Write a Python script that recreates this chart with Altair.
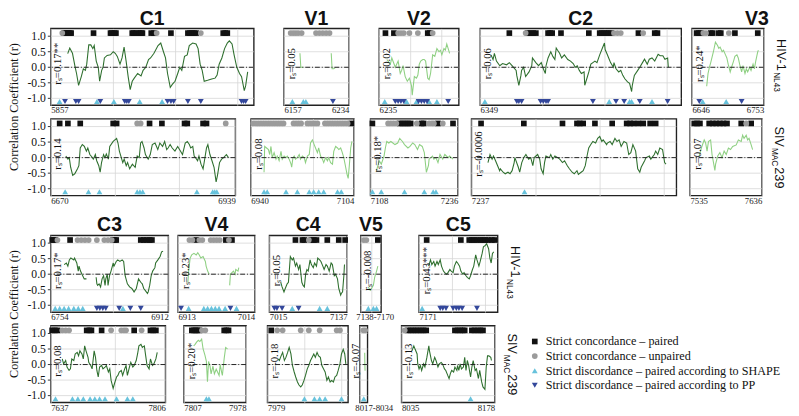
import altair as alt
import numpy as np
import pandas as pd

# ---------------------------------------------------------------- data
# HIV-1 NL4-3 (top row of each block)
C1_HIV_X = [5882,5885,5889,5893,5895,5898,5902,5905,5908,5910,5913,5916,5919,5921,5924,5927,5929,5932,5934,5936,
            5940,5945,5949,5952,5955,5959,5962,5965,5968,5971,5974,5977,5980,5985,5990,5993,5997,6001,6004,6009,
            6015,6019,6023,6026,6029,6033,6036,6040,6044,6047,6050,6054,6058,6061,6066,6071,6074,6077,6080,6083,
            6088,6094,6099,6102,6105,6109,6113,6117,6120,6124,6127,6131,6135,6138,6142,6144,6147]
C1_HIV_Y = [0.44,0.62,0.45,0.0,-0.2,-0.58,-0.3,-0.05,-0.1,0.1,0.72,0.72,0.6,0.7,0.2,0.0,-0.45,-0.1,0.0,0.3,
            0.38,0.4,0.5,0.45,0.35,0.1,0.3,0.65,0.2,-0.3,-0.72,-0.45,-0.35,-0.2,-0.28,-0.1,0.0,0.25,0.3,0.45,
            0.7,0.78,0.5,0.3,-0.2,-0.65,-0.55,-0.45,-0.2,0.0,-0.1,0.35,0.4,0.7,0.78,0.75,0.6,0.1,-0.1,-0.45,
            -0.42,-0.38,-0.35,-0.25,0.1,0.3,0.6,0.78,0.85,0.75,0.4,0.0,-0.2,-0.3,-0.75,-0.6,-0.15]
C1_HIV_SQ = [5877,5879,5881,5883,5885,5887,5920,5945,5947,5951,5953,5977,5979,5983,5987,5990,5992,6005,6009,6034,
             6059,6062,6065,6068,6071,6111,6114,6117]
C1_HIV_CI = [5874,6013,6078]
C1_HIV_UP = [5870,5925,5950,5988,6021]
C1_HIV_DN = [5878,5894,5898,5930,5966,5969,5972,6029,6034,6038,6059,6078,6138,6141,6144]

V1_HIV_X = [[6176,6177,6180],[6213,6214,6216,6218]]
V1_HIV_Y = [[0.45,0.0,0.0],[0.45,-0.05,-0.05,0.0]]
V1_HIV_SQ = []
V1_HIV_CI = [6165,6168,6171,6174,6178,6195,6199,6203,6207,6211]
V1_HIV_UP = [6167,6180,6183]
V1_HIV_DN = [6215]

V2_HIV_X = [6246,6251,6253,6258,6262,6265,6267,6269,6272,6275,6278,6281,6282,6285,6288,6290,6292,6294,6297,6299,
            6301,6304,6306,6308,6309,6311,6314,6317,6320,6322,6324,6327,6329,6331,6333,6335]
V2_HIV_Y = [0.25,0.1,0.3,0.0,0.2,-0.2,-0.1,0.05,-0.3,-0.45,-0.35,-0.6,-0.9,-0.3,-0.35,-0.25,0.1,0.2,0.25,0.25,
            0.2,-0.35,-0.4,-0.2,0.0,0.4,0.35,0.6,0.5,0.55,0.4,0.6,0.55,0.75,0.6,0.45]
V2_HIV_SQ = [6244,6256,6304,6307]
V2_HIV_CI = [6262,6266,6270,6278,6290,6311]
V2_HIV_UP = [6243,6274,6288,6306,6317]
V2_HIV_DN = [6258,6262,6266,6270,6291,6295,6299,6303,6333]

C2_HIV_X = [6365,6368,6370,6373,6378,6382,6388,6392,6396,6402,6403,6406,6409,6410,6413,6416,6421,6425,6426,6431,
            6435,6439,6442,6445,6446,6449,6453,6456,6459,6461,6463,6466,6469,6473,6478,6482,6486,6489,6492,6495,
            6498,6502,6503,6506,6509,6512,6515,6518,6521,6525,6529,6532,6533,6536,6539,6541,6545,6546,6549,6553,
            6556,6559,6562,6566,6569,6572,6573,6576,6581,6584,6588,6591,6595,6598,6602,6606,6611,6614,6618,6621,
            6625,6626]
C2_HIV_Y = [0.4,0.25,0.45,0.2,0.05,0.12,0.08,0.15,0.05,-0.1,-0.27,-0.58,-0.27,-0.1,0.0,-0.3,-0.15,0.05,0.3,0.15,
            0.05,0.15,-0.05,-0.2,0.05,0.3,0.5,0.35,0.25,0.62,0.55,0.45,0.3,0.4,0.25,0.2,0.12,0.0,0.05,-0.1,
            -0.2,-0.15,-0.58,-0.37,-0.15,0.1,0.15,0.2,0.15,0.4,0.62,0.78,0.57,0.42,0.26,0.15,0.0,0.15,-0.05,-0.15,
            -0.1,-0.26,-0.37,-0.47,-0.52,-0.78,-0.58,-0.26,-0.1,0.0,0.15,0.26,0.1,0.26,0.3,0.2,0.42,0.37,0.37,0.26,
            0.3,0.0]
C2_HIV_SQ = [6392,6419,6423,6427,6431,6449,6452,6455,6468,6509,6525,6528,6532,6535,6538,6542,6582,6606,6610]
C2_HIV_CI = [6416,6546,6551,6556,6589]
C2_HIV_UP = [6356,6539,6569,6572,6602]
C2_HIV_DN = [6403,6406,6410,6438,6442,6446,6449,6515,6549,6561,6584,6625]

V3_HIV_X = [6668,6670,6672,6674,6678,6681,6684,6686,6688,6691,6693,6696,6698,6700,6703,6705,6708,6710,6713,6715,
            6717,6720,6722,6725,6727,6729,6732,6734,6737,6739,6741,6744,6745]
V3_HIV_Y = [-0.61,-0.2,0.0,0.15,0.5,0.81,0.71,0.61,0.65,0.5,0.55,0.4,0.3,0.1,-0.15,0.0,0.2,0.35,0.4,0.3,
            0.1,-0.15,0.05,-0.2,-0.05,-0.15,0.0,-0.1,0.1,-0.05,0.2,0.5,0.55]
V3_HIV_SQ = [6653,6656,6659,6674,6677,6686,6689,6710,6744]
V3_HIV_CI = [6663,6667,6701]
V3_HIV_UP = [6662,6697]
V3_HIV_DN = [6657,6720]

# SIV mac239 (bottom row of each block)
C1_SIV_X = [6692,6695,6697,6699,6702,6705,6709,6711,6713,6716,6719,6722,6724,6727,6730,6732,6735,6737,6740,6742,
            6744,6747,6749,6751,6754,6756,6761,6766,6768,6770,6775,6777,6780,6782,6785,6789,6793,6796,6799,6801,
            6803,6806,6808,6812,6815,6818,6822,6826,6829,6833,6836,6839,6841,6844,6847,6851,6855,6859,6862,6866,
            6869,6872,6874,6877,6879,6881,6884,6886,6889,6892,6894,6897,6899,6902,6905,6908,6911,6913,6916,6919,
            6922,6926,6929]
C1_SIV_Y = [0.05,-0.05,0.0,-0.31,-0.57,-0.52,-0.36,-0.26,0.31,0.42,0.36,0.21,0.31,0.1,0.02,-0.05,0.1,-0.1,-0.26,-0.47,
            -0.16,0.1,0.0,0.12,-0.05,0.36,0.52,0.62,0.47,0.21,-0.16,-0.05,-0.26,-0.16,-0.36,-0.21,-0.31,0.05,0.0,0.47,
            0.52,0.31,0.1,-0.05,0.1,0.42,0.47,0.26,0.47,0.36,0.52,0.26,0.31,0.42,0.31,0.21,0.36,0.21,0.1,0.47,
            0.52,0.42,0.31,0.36,0.05,0.0,-0.1,0.05,-0.21,-0.36,-0.1,0.31,0.42,0.1,-0.1,-0.31,-0.78,-0.57,-0.16,-0.05,
            0.0,0.1,0.0]
C1_SIV_SQ = [6683,6695,6713,6761,6766,6814,6832,6865,6869,6892,6897]
C1_SIV_CI = [6796,6801,6925]
C1_SIV_UP = [6691,6725,6741,6796,6800,6804,6883,6906,6909,6912]
C1_SIV_DN = []

V1_SIV_X = [6961,6962,6965,6968,6970,6972,6974,6977,6980,6982,6985,6988,6990,6993,6996,6998,7001,7004,7005,7007,
            7009,7011,7014,7017,7019,7022,7025,7027,7030,7033,7035,7038,7041,7043,7046,7048,7051,7054,7056,7059,
            7062,7064,7067,7070,7072,7075,7078,7080,7083,7085,7088,7091,7093,7095,7097,7099,7101]
V1_SIV_Y = [-0.47,0.36,0.31,0.26,0.1,0.36,0.0,0.16,-0.05,0.05,-0.1,0.2,-0.05,0.05,0.0,0.05,-0.05,-0.21,-0.31,0.0,
            0.05,-0.05,0.0,0.1,-0.05,0.05,0.0,-0.16,0.05,0.1,0.47,0.57,0.41,0.31,0.16,0.31,0.05,-0.05,-0.16,0.0,
            -0.1,0.0,-0.16,-0.21,0.2,0.36,0.31,0.26,0.31,0.2,0.0,-0.31,-0.52,-0.67,-0.21,0.31,0.52]
V1_SIV_SQ = [7100]
V1_SIV_CI = [6944,6948,6952,6956,6960,6964,6968,6972,6976,6980,6984,6988,6992,7008,7012,7016,7020,
             7030,7034,7038,7042,7046,7058,7062,7066,7070,7074,7078,7082,7086,7090,7094]
V1_SIV_UP = [6961,6966,6996,7014,7033,7040,7048,7056,7078,7084]
V1_SIV_DN = []

V2_SIV_X = [7117,7121,7124,7128,7130,7132,7135,7138,7141,7144,7148,7151,7155,7158,7163,7166,7170,7173,7177,7180,
            7184,7187,7190,7193,7194,7199,7201,7204,7207,7210,7214,7217,7222,7224,7229]
V2_SIV_Y = [-0.42,-0.1,-0.21,0.05,0.31,0.52,0.47,0.52,0.47,0.42,0.47,0.62,0.52,0.42,0.31,0.36,0.47,0.42,0.26,0.42,
            0.36,0.16,-0.47,-0.26,-0.05,0.05,-0.05,0.0,-0.16,0.1,-0.05,0.1,0.0,0.05,-0.05]
V2_SIV_SQ = [7111,7151,7155,7159,7163,7167,7183,7186,7207,7229]
V2_SIV_CI = [7134,7138,7142,7146,7176,7194,7198,7201,7214]
V2_SIV_UP = [7111,7124,7158,7187,7200,7204]
V2_SIV_DN = []

C2_SIV_X = [7261,7264,7267,7269,7272,7275,7278,7279,7283,7286,7290,7293,7296,7299,7300,7305,7307,7310,7313,7316,
            7320,7323,7326,7328,7333,7336,7338,7341,7343,7345,7350,7352,7355,7358,7362,7365,7369,7372,7376,7379,
            7383,7386,7390,7392,7396,7399,7402,7405,7407,7410,7413,7417,7420,7423,7426,7428,7433,7434,7438,7441,
            7445,7448,7451,7454,7458,7462,7465,7468,7471,7475,7478,7481,7483,7488,7490,7495,7497,7502,7504,7507,
            7510,7514,7517,7519]
C2_SIV_Y = [-0.16,0.1,-0.05,0.05,-0.1,-0.26,-0.42,-0.36,-0.47,-0.52,-0.47,-0.52,-0.42,-0.16,0.0,-0.31,-0.47,-0.16,0.0,0.1,
            -0.05,0.0,-0.26,0.0,0.1,-0.05,-0.36,-0.52,-0.16,0.05,0.0,0.1,-0.05,0.05,0.0,-0.05,-0.16,-0.1,-0.26,-0.36,
            -0.47,-0.52,-0.42,-0.54,-0.47,-0.42,-0.26,0.1,0.31,0.42,0.52,0.47,0.62,0.68,0.52,0.57,0.42,0.47,0.52,0.42,
            0.62,0.52,0.57,0.36,0.52,0.47,0.1,0.16,0.42,0.21,-0.36,-0.47,-0.31,-0.1,0.0,0.05,-0.05,0.1,0.21,0.1,
            0.31,0.26,-0.16,-0.21]
C2_SIV_SQ = [7251,7313,7369,7390,7394,7399,7416,7441,7462,7467,7472,7479,7486,7496,7504]
C2_SIV_CI = []
C2_SIV_UP = [7314]
C2_SIV_DN = []

V3_SIV_X = [7548,7551,7555,7557,7559,7561,7564,7566,7570,7571,7574,7577,7580,7583,7586,7589,7592,7595,7600,7603,
            7607,7609,7611,7614,7616,7618,7621,7623]
V3_SIV_Y = [0.05,0.31,0.57,0.47,0.21,0.52,0.57,0.1,-0.41,-0.21,0.05,0.16,0.0,0.21,0.1,0.31,0.26,0.36,0.41,0.57,
            0.52,0.72,0.62,0.72,0.57,0.62,0.41,0.26]
V3_SIV_SQ = [7541,7545,7549,7562,7567,7572,7577,7582,7587,7607,7621]
V3_SIV_CI = [7614]
V3_SIV_UP = []
V3_SIV_DN = []

C3_HIV_X = [[6772,6775,6777,6779,6781,6785,6786,6789,6791,6792,6794,6796,6799,6801,6802],
            [6815,6816,6817,6819,6821,6823,6825,6827,6828,6830,6831,6833,6835,6838,6839,6842,6844,6847,6850,6852,
             6854,6857,6860,6863,6866,6869,6872,6875,6877,6879,6881,6884,6885,6887,6889,6891,6894,6895,6898,6901,
             6903,6905]]
C3_HIV_Y = [[0.31,0.36,0.26,0.46,0.52,0.46,0.52,0.36,0.1,0.26,0.1,0.0,-0.15,-0.15,-0.15],
            [-0.1,-0.31,-0.36,-0.31,-0.41,-0.15,-0.05,-0.36,-0.15,0.0,-0.36,-0.05,0.1,0.36,0.26,0.41,0.46,0.41,0.46,0.41,
             -0.05,-0.31,-0.41,-0.46,-0.57,-0.46,-0.15,-0.26,-0.31,-0.46,-0.52,-0.62,-0.57,-0.36,-0.05,0.1,0.21,0.36,0.46,0.57,
             0.72,0.74]]
C3_HIV_SQ = [6756,6758,6760,6780,6838,6840,6842,6875,6879,6883,6887,6890]
C3_HIV_CI = [6763,6790,6795,6800,6805,6816,6826,6831,6836]
C3_HIV_UP = [6760,6766,6772,6778,6785,6791,6797,6851]
C3_HIV_DN = [6816,6820,6824,6828,6846,6861,6875]

V4_HIV_X = [[6926,6927,6929,6931,6934,6937,6939,6941,6943,6946,6949,6950,6952,6954],
            [6981,6982,6984,6986,6988,6989,6992,6993]]
V4_HIV_Y = [[-0.26,0.1,0.52,0.62,0.67,0.62,0.69,0.62,0.52,0.57,0.41,0.26,0.1,0.0],
            [-0.36,0.0,0.05,0.1,0.0,0.15,0.1,0.21]]
V4_HIV_SQ = [6937,6976,6984]
V4_HIV_CI = [6928,6932,6941,6945,6956,6960,6964,6968,6980]
V4_HIV_UP = [6927,6947,6952,6957,6962,6967,6975,6990]
V4_HIV_DN = [6917,6982]

C4_HIV_X = [7033,7035,7038,7040,7043,7045,7048,7051,7053,7056,7058,7061,7063,7066,7068,7070,7072,7074,7076,7079,
            7081,7084,7086,7089,7091,7094,7096,7099,7101,7104,7106,7109,7112,7114,7117,7119,7122,7124,7127,7128,
            7130,7132,7133]
C4_HIV_Y = [-0.26,-0.41,-0.57,-0.46,-0.31,-0.26,0.57,0.46,0.52,0.26,0.36,0.15,0.31,-0.26,-0.36,-0.41,0.0,0.15,0.1,0.46,
            0.31,0.21,0.36,0.26,0.52,0.46,0.41,0.26,0.15,0.31,0.26,0.1,0.36,0.31,-0.05,0.0,-0.15,-0.46,-0.67,-0.62,
            -0.57,-0.05,0.31]
C4_HIV_SQ = [7056,7067,7070,7081,7085,7089,7106,7124,7134]
C4_HIV_CI = [7077]
C4_HIV_UP = [7051,7094,7106]
C4_HIV_DN = [7023,7027,7035,7061]

V5_HIV_X = [7150,7153,7155,7158,7160,7163,7165]
V5_HIV_Y = [-0.41,-0.52,-0.46,-0.36,-0.1,0.1,0.26]
V5_HIV_SQ = [7165]
V5_HIV_CI = [7143,7147]
V5_HIV_UP = [7150,7158,7163]
V5_HIV_DN = []

C5_HIV_X = [7186,7189,7191,7194,7196,7199,7201,7204,7206,7209,7211,7214,7216,7219,7221,7224,7226,7229,7231,7234,
            7236,7239,7241,7244,7246,7249,7251,7254,7256,7259,7261,7264,7266,7269,7271,7274,7276,7279,7281,7283,
            7285,7287]
C5_HIV_Y = [0.26,0.46,0.31,0.41,0.26,0.41,0.31,0.46,0.26,0.1,0.05,0.0,0.05,0.15,0.1,0.05,0.26,0.41,0.36,0.26,
            0.1,0.0,0.05,-0.05,-0.1,-0.15,-0.05,0.15,0.26,0.62,0.46,0.26,0.41,0.67,0.88,0.93,0.98,0.82,0.52,0.36,
            0.67,0.72]
C5_HIV_SQ = [7183,7236,7249,7253,7257,7261,7266,7270,7274,7278,7284,7288]
C5_HIV_CI = []
C5_HIV_UP = [7176]
C5_HIV_DN = [7204,7208,7213,7224,7229,7233,7238,7261]

C3_SIV_X = [7654,7656,7659,7661,7664,7666,7668,7671,7673,7676,7678,7680,7683,7685,7687,7689,7692,7693,7696,7698,
            7701,7703,7705,7707,7709,7712,7714,7717,7719,7722,7724,7726,7729,7731,7734,7736,7738,7741,7743,7746,
            7748,7750,7753,7755,7758,7760,7763,7765,7767,7770,7772,7775,7777,7779,7782,7784,7787,7789,7792,7794]
C3_SIV_Y = [0.18,0.02,0.13,-0.08,-0.19,-0.14,0.18,0.13,0.34,0.39,0.28,0.44,0.34,0.18,0.6,0.44,0.23,0.07,-0.03,-0.14,
            0.44,0.23,-0.19,-0.4,-0.08,-0.03,-0.14,-0.08,-0.03,-0.24,-0.14,-0.51,-0.77,-0.61,-0.4,-0.35,-0.24,-0.19,-0.35,-0.14,
            -0.03,-0.35,-0.08,0.07,-0.08,-0.03,0.13,0.34,0.6,0.65,0.55,0.6,0.28,-0.03,-0.14,0.18,-0.03,0.02,0.18,0.39]
C3_SIV_SQ = [7639,7643,7647,7690,7694,7697,7712,7760,7784,7788,7792]
C3_SIV_CI = [7654,7659,7664,7726,7741,7745,7748,7771]
C3_SIV_UP = [7644,7669,7677,7685,7695,7702,7709,7717,7734,7750,7758]
C3_SIV_DN = []

V4_SIV_X = [7834,7838,7842,7847,7851,7856,7860,7865,7869,7872,7875,7879,7882,7887,7891,7896,7900,7904,7907,7911,
            7913,7918,7922,7927]
V4_SIV_Y = [0.6,0.65,0.72,0.78,0.74,0.82,0.5,0.3,0.1,-0.55,0.1,-0.05,-0.3,-0.05,-0.3,-0.15,-0.25,-0.35,0.0,-0.25,
            -0.35,0.2,0.55,0.5]
V4_SIV_SQ = [7829,7834,7839,7844,7849,7918,7924,7930]
V4_SIV_CI = [7857,7866]
V4_SIV_UP = [7869,7876]
V4_SIV_DN = []

C4_SIV_X = [7983.8,7984.5,7985.3,7986.0,7986.8,7987.5,7988.3,7989.0,7989.8,7990.5,7991.3,7992.0,7992.8,7993.5,7994.3,
            7995.0,7995.8,7996.5,7997.3,7998.0,7998.8,7999.5,8000.3,8001.0,8001.8,8002.5,8003.3,8004.0,8004.8,8005.5,
            8006.3,8007.0,8007.8,8008.5,8009.3,8010.0,8010.8,8011.5,8012.3,8013.0,8013.8,8014.5,8015.0]
C4_SIV_Y = [0.18,0.13,0.28,0.39,0.13,0.23,0.39,0.55,0.34,-0.03,-0.24,-0.4,-0.56,-0.66,-0.72,-0.66,-0.51,-0.35,-0.14,-0.03,
            0.13,0.23,0.34,0.23,0.39,0.28,0.23,-0.03,-0.14,-0.24,-0.51,-0.4,-0.56,-0.51,-0.56,-0.4,-0.35,-0.19,0.02,0.34,
            0.49,0.34,0.02]
C4_SIV_SQ = [7980.8]
C4_SIV_CI = [7983.5,7986,7994.3,7998,8003,8010.8,8012.3]
C4_SIV_UP = [7996,8000.6,8003,8005.5,8013]
C4_SIV_DN = []

V5_SIV_X = [8028,8028.4,8028.8]
V5_SIV_Y = [0.38,0.0,-0.2]
V5_SIV_SQ = []
V5_SIV_CI = [8025,8029]
V5_SIV_UP = [8026]
V5_SIV_DN = []

C5_SIV_X = [8051,8054,8056,8059,8060,8062,8064,8066,8069,8071,8074,8077,8078,8081,8083,8086,8088,8091,8093,8096,
            8098,8101,8103,8106,8108,8110,8112,8115,8117,8120,8121,8123,8125,8127,8130,8132,8134,8136,8138,8141,
            8143,8145,8148,8150,8153,8155,8158,8160,8163,8165,8167,8169,8172,8173]
C5_SIV_Y = [0.44,0.6,0.49,0.34,0.02,-0.14,-0.03,-0.19,0.02,-0.08,0.23,0.6,0.44,0.13,0.02,0.23,0.13,-0.08,0.02,0.07,
            0.02,-0.14,-0.19,-0.35,-0.45,-0.29,-0.19,-0.24,-0.08,-0.19,-0.03,-0.19,0.02,-0.14,-0.08,0.23,-0.19,0.13,-0.03,-0.4,
            -0.08,0.13,-0.19,-0.14,-0.45,-0.19,-0.56,-0.72,-0.8,-0.08,0.28,0.28,0.23,0.13]
C5_SIV_SQ = [8045,8049,8053,8057,8061,8065,8069,8073,8117,8121,8125,8129,8132,8143,8147,8152,8156,8160]
C5_SIV_CI = [8040]
C5_SIV_UP = [8141]
C5_SIV_DN = []

# panel ranges and Spearman labels
RANGES = {
    "C1_HIV": (5857, 6156), "V1_HIV": (6157, 6234), "V2_HIV": (6235, 6348), "C2_HIV": (6349, 6645),
    "V3_HIV": (6646, 6753), "C1_SIV": (6670, 6939), "V1_SIV": (6940, 7104), "V2_SIV": (7108, 7236),
    "C2_SIV": (7237, 7534), "V3_SIV": (7535, 7636), "C3_HIV": (6754, 6912), "V4_HIV": (6913, 7014),
    "C4_HIV": (7015, 7137), "V5_HIV": (7138, 7170), "C5_HIV": (7171, 7293), "C3_SIV": (7637, 7806),
    "V4_SIV": (7807, 7978), "C4_SIV": (7979, 8016), "V5_SIV": (8017, 8034), "C5_SIV": (8035, 8178),
}
RS = {
    "C1_HIV": "rₛ=0.17**", "V1_HIV": "rₛ=0.05", "V2_HIV": "rₛ=0.02", "C2_HIV": "rₛ=0.06", "V3_HIV": "rₛ=0.24*",
    "C1_SIV": "rₛ=0.14", "V1_SIV": "rₛ=0.08", "V2_SIV": "rₛ=0.18*", "C2_SIV": "rₛ=-0.0006", "V3_SIV": "rₛ=0.07",
    "C3_HIV": "rₛ=0.17*", "V4_HIV": "rₛ=0.23*", "C4_HIV": "rₛ=0.05", "V5_HIV": "rₛ=-0.008", "C5_HIV": "rₛ=0.43***",
    "C3_SIV": "rₛ=0.08", "V4_SIV": "rₛ=0.20*", "C4_SIV": "rₛ=-0.18", "V5_SIV": "rₛ=-0.07", "C5_SIV": "rₛ=-0.13",
}
SPAN_LABELS = {"V5_HIV": "7138-7170", "V5_SIV": "8017-8034"}
Y_TICKS = [-1.0, -0.5, 0.0, 0.5, 1.0]
Y_TICK_LABELS = ["-1.0", "-0.5", "0.0", "0.5", "1.0"]
CATS = ["Strict concordance –  paired", "Strict concordance –  unpaired",
        "Strict discordance  –  paired according to SHAPE", "Strict discordance  –  paired according to PP"]

# ---------------------------------------------------------------- style / layout
SHAPES = ["square", "circle", "triangle-up", "triangle-down"]
MCOLORS = ["#111111", "#9b9b9b", "#67c2dc", "#33479b"]
MSIZES = [34, 36, 55, 55]
DARK, LIGHT = "#2e6f2e", "#8fd083"
GRID = "#d6d6d6"
SERIF, SANS = "Liberation Serif", "Liberation Sans"
YDOM = [-1.22, 1.25]
H = 79

# (panel, width, gap before, grid spacing px)
ROW1 = [("C1_HIV", 209, 0, 32), ("V1_HIV", 67, 31, 16), ("V2_HIV", 82, 31, 16), ("C2_HIV", 207, 22, 32), ("V3_HIV", 74, 11, 15)]
ROW2 = [("C1_SIV", 190, 0, 33), ("V1_SIV", 106, 16, 32), ("V2_SIV", 90, 17, 16), ("C2_SIV", 211, 14, 33), ("V3_SIV", 74, 14, 15)]
ROW3 = [("C3_HIV", 121, 0, 32), ("V4_HIV", 79, 10, 15), ("C4_HIV", 80, 15, 20), ("V5_HIV", 21, 14, 11), ("C5_HIV", 81, 39, 17)]
ROW4 = [("C3_SIV", 118, 0, 33), ("V4_SIV", 64, 19, 18), ("C4_SIV", 83, 22, 19), ("V5_SIV", 8, 12, 99), ("C5_SIV", 96, 35, 32)]

LEGEND = alt.Legend(title=None, orient="none", legendX=492, legendY=316, labelFont=SERIF, labelFontSize=12.5,
                    labelColor="#111", symbolSize=100, symbolStrokeWidth=0, rowPadding=2, labelLimit=400,
                    labelOffset=5)
ONE = pd.DataFrame({"k": [0]})
YT = pd.DataFrame({"v": Y_TICKS, "lab": Y_TICK_LABELS})
NOVIEW = alt.ViewBackground(stroke=None)


def get(name):
    return globals()[name]


def panel(key, width, grid_px, title=None, first=False, title_dx=0, rs_x=8):
    start, end = RANGES[key]
    xs_, ys_ = get(key + "_X"), get(key + "_Y")
    segs_x = xs_ if isinstance(xs_[0], list) else [xs_]
    segs_y = ys_ if isinstance(ys_[0], list) else [ys_]
    rows = []
    for i, (sx, sy) in enumerate(zip(segs_x, segs_y)):
        for a, b in zip(sx, sy):
            rows.append({"x": a, "y": b, "seg": i})
    line_df = pd.DataFrame(rows)

    mk = []
    for cat, arr, yy in ((CATS[0], get(key + "_SQ"), 1.1), (CATS[1], get(key + "_CI"), 1.1),
                         (CATS[2], get(key + "_UP"), -1.1), (CATS[3], get(key + "_DN"), -1.1)):
        for v in arr:
            mk.append({"x": v, "y": yy, "cat": cat})
    mk_df = pd.DataFrame(mk)

    step = grid_px * (end - start) / width
    g = [float(v) for v in np.arange(start + step, end - 0.3 * step, step)]
    common = dict(ticks=False, domain=False, grid=True, gridColor=GRID, gridWidth=0.8, title=None,
                  labelFont=SERIF, labelFontSize=9, labelColor="#222", labelPadding=1, labelOverlap=False)
    if key in SPAN_LABELS:
        xaxis = alt.Axis(values=[start] + g, labelExpr=f"datum.value == {start} ? '{SPAN_LABELS[key]}' : ''",
                         labelAlign="left", labelOffset=-5, labelFlush=False, **common)
    else:
        xaxis = alt.Axis(values=[start] + g + [end],
                         labelExpr=f"(datum.value == {start} || datum.value == {end}) ? format(datum.value, 'd') : ''",
                         labelFlush=True, **common)
    xsc = alt.Scale(domain=[start, end], nice=False, zero=False)
    ysc = alt.Scale(domain=YDOM, nice=False, zero=False)
    col = DARK if key.startswith("C") else LIGHT

    hgrid = alt.Chart(YT).mark_rule(color=GRID, strokeWidth=0.8).encode(
        y=alt.Y("v:Q", scale=ysc, axis=None))
    line = alt.Chart(line_df).mark_line(color=col, strokeWidth=1.1).encode(
        x=alt.X("x:Q", scale=xsc, axis=xaxis), y=alt.Y("y:Q", scale=ysc, axis=None), detail="seg:N")
    zero = alt.Chart(ONE).mark_rule(color="#222", strokeWidth=1, strokeDash=[5, 2, 1, 2]).encode(
        y=alt.datum(0))
    pts = alt.Chart(mk_df).mark_point(filled=True, opacity=1, strokeWidth=0).encode(
        x="x:Q", y="y:Q",
        shape=alt.Shape("cat:N", scale=alt.Scale(domain=CATS, range=SHAPES), legend=LEGEND),
        color=alt.Color("cat:N", scale=alt.Scale(domain=CATS, range=MCOLORS), legend=LEGEND),
        size=alt.Size("cat:N", scale=alt.Scale(domain=CATS, range=MSIZES), legend=None))
    txt = alt.Chart(ONE).mark_text(angle=270, font=SERIF, fontSize=11, align="center", baseline="middle",
                                   color="#111").encode(x=alt.value(rs_x), y=alt.value(H * 0.46),
                                                        text=alt.value(RS[key]))
    layers = [hgrid, line, pts, zero, txt]
    if first:
        ticks = alt.Chart(YT).mark_rule(color="#333", strokeWidth=1).encode(
            y="v:Q", x=alt.value(-3), x2=alt.value(0))
        labs = alt.Chart(YT).mark_text(align="right", baseline="middle", font=SERIF, fontSize=12,
                                       color="#111").encode(y="v:Q", x=alt.value(-5), text="lab:N")
        layers += [ticks, labs]
    props = dict(width=width, height=H)
    if title:
        props["title"] = alt.TitleParams(title, font=SANS, fontSize=20, fontWeight="bold", color="#111",
                                         anchor="middle", offset=0, dx=title_dx)
    return alt.layer(*layers).properties(**props)


def spacer(w):
    return alt.Chart(ONE).mark_point(opacity=0).encode(x=alt.value(0), y=alt.value(0)).properties(
        width=w, height=H, view=NOVIEW)


def row_label(parts):
    layers = []
    for text, fs, xb, y0 in parts:
        layers.append(alt.Chart(ONE).mark_text(angle=90, align="left", baseline="alphabetic", font=SANS,
                                               fontSize=fs, color="#111").encode(
            x=alt.value(xb), y=alt.value(y0), text=alt.value(text)))
    return alt.layer(*layers).properties(width=28, height=H, view=NOVIEW)


HIV_LABEL = [("HIV-1", 13, 14, 11), ("NL43", 8.5, 10, 45)]
SIV_LABEL = [("SIV", 13, 14, 8), ("MAC", 8.5, 10, 30), ("239", 13, 14, 50)]


def build_row(spec, with_titles, label):
    items = []
    for i, (key, w, gap, gpx) in enumerate(spec):
        if gap:
            items.append(spacer(gap))
        name = key.split("_")[0]
        items.append(panel(key, w, gpx, title=name if with_titles else None, first=(i == 0),
                           title_dx=(30 if key == "V3_HIV" else 0),
                           rs_x=(-4 if key == "V5_SIV" else 8)))
    items.append(row_label(label))
    return alt.hconcat(*items, spacing=0, bounds="flush")


YTITLE = alt.TitleParams("Correlation Coefficient (r)", orient="left", anchor="middle", font=SERIF,
                         fontSize=12.5, fontWeight="normal", color="#111", offset=6)

row1 = build_row(ROW1, True, HIV_LABEL)
row2 = build_row(ROW2, False, SIV_LABEL)
row3 = build_row(ROW3, True, HIV_LABEL)
row4 = build_row(ROW4, False, SIV_LABEL)

top = alt.vconcat(row1, row2, spacing=0, title=YTITLE)
bottom = alt.vconcat(row3, row4, spacing=0, title=YTITLE)
chart = alt.vconcat(top, bottom, spacing=9).properties(
    padding={"left": 0, "top": -6, "right": 0, "bottom": 0}
).configure_view(stroke="#222", strokeWidth=1.4)

chart.save("out.html", embed_options={"renderer": "svg", "actions": False})
